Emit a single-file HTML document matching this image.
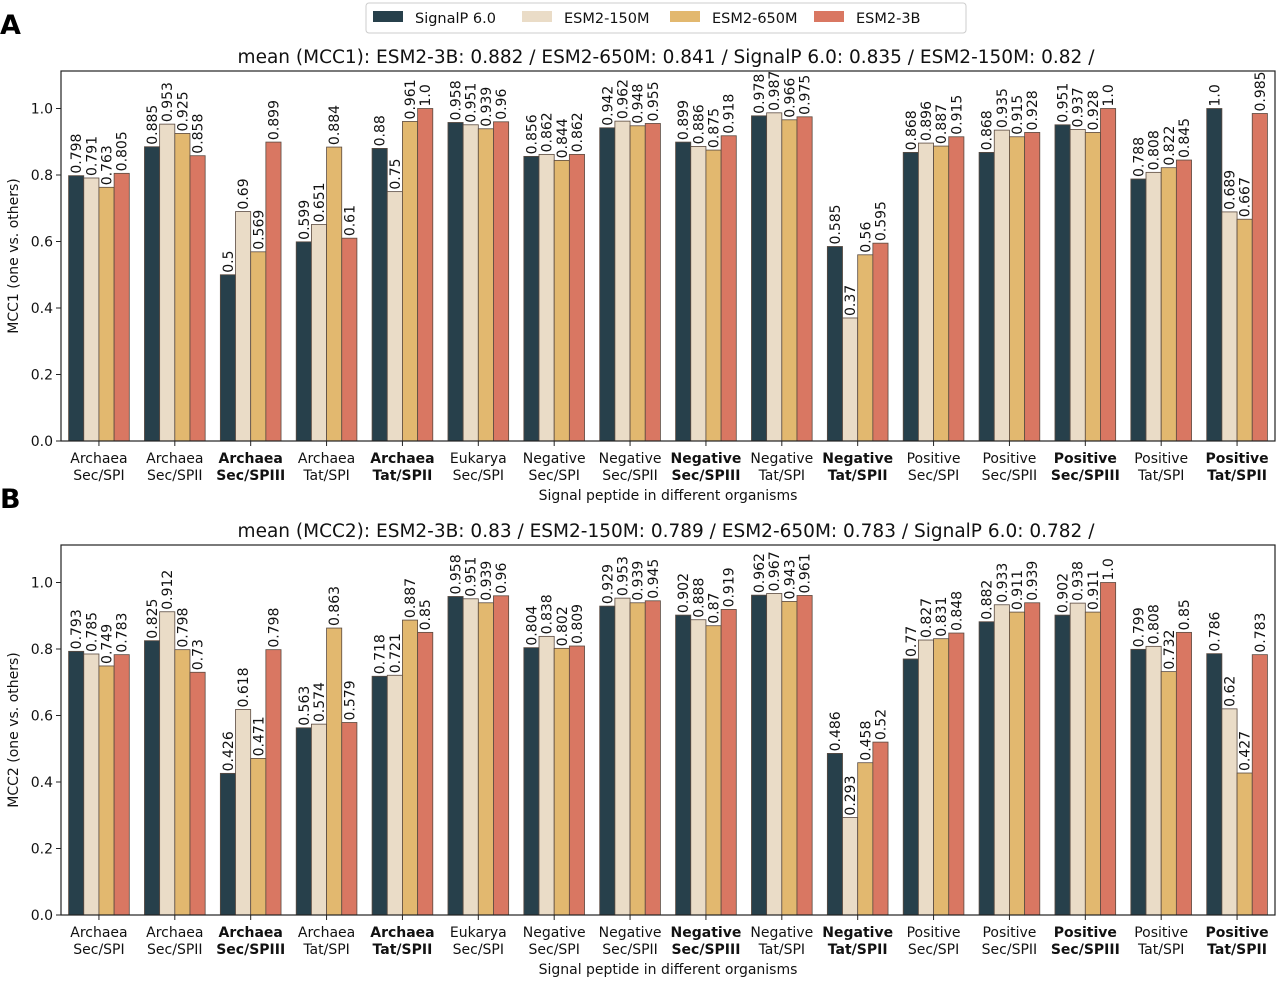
<!DOCTYPE html>
<html><head><meta charset="utf-8"><style>
body{margin:0;background:#fff}
svg{font-family:"DejaVu Sans","Liberation Sans",sans-serif}
</style></head><body>
<svg id="c" width="1280" height="983" viewBox="0 0 1280 983" xmlns="http://www.w3.org/2000/svg"></svg>
<script>
const categories=[["Archaea","Sec/SPI"],["Archaea","Sec/SPII"],["Archaea","Sec/SPIII"],["Archaea","Tat/SPI"],["Archaea","Tat/SPII"],["Eukarya","Sec/SPI"],["Negative","Sec/SPI"],["Negative","Sec/SPII"],["Negative","Sec/SPIII"],["Negative","Tat/SPI"],["Negative","Tat/SPII"],["Positive","Sec/SPI"],["Positive","Sec/SPII"],["Positive","Sec/SPIII"],["Positive","Tat/SPI"],["Positive","Tat/SPII"]];
const boldCats=[2,4,8,10,13,15];
const seriesNames=["SignalP 6.0","ESM2-150M","ESM2-650M","ESM2-3B"];
const seriesColors=["#27404b","#eadcc7","#e2b86f","#d97762"];
const a_signalp=[.798,.885,.5,.599,.88,.958,.856,.942,.899,.978,.585,.868,.868,.951,.788,1.0];
const a_150m=[.791,.953,.69,.651,.75,.951,.862,.962,.886,.987,.37,.896,.935,.937,.808,.689];
const a_650m=[.763,.925,.569,.884,.961,.939,.844,.948,.875,.966,.56,.887,.915,.928,.822,.667];
const a_3b=[.805,.858,.899,.61,1.0,.96,.862,.955,.918,.975,.595,.915,.928,1.0,.845,.985];
const b_signalp=[.793,.825,.426,.563,.718,.958,.804,.929,.902,.962,.486,.77,.882,.902,.799,.786];
const b_150m=[.785,.912,.618,.574,.721,.951,.838,.953,.888,.967,.293,.827,.933,.938,.808,.62];
const b_650m=[.749,.798,.471,.863,.887,.939,.802,.939,.87,.943,.458,.831,.911,.911,.732,.427];
const b_3b=[.783,.73,.798,.579,.85,.96,.809,.945,.919,.961,.52,.848,.939,1.0,.85,.783];
const yTicks=[0,0.2,0.4,0.6,0.8,1.0];
const NS="http://www.w3.org/2000/svg";
const svg=document.getElementById('c');
function el(t,a,p){const e=document.createElementNS(NS,t);for(const k in a)e.setAttribute(k,a[k]);(p||svg).appendChild(e);return e;}
function txt(s,a,p){const e=el('text',a,p);e.textContent=s;return e;}
function fmt(v){return v===1?'1.0':String(v);}

const lg=el('g',{});


el('rect',{x:366,y:3,width:600,height:30,rx:3,fill:'#fff',stroke:'#ccc'},lg);
const lgx=[373,522,670,814];
seriesNames.forEach((n,i)=>{
  const g=el('g',{},lg);
  
  
  el('rect',{x:lgx[i],y:11,width:30,height:11,fill:seriesColors[i]},g);
  txt(n,{x:lgx[i]+42,y:23,'font-size':14.5,fill:'#111'},g);
});

function panel(id,letter,series,yBase,title,yLabel){
  const L=61,R=1275,top=yBase-370,bot=yBase,k=332.5;
  const g=el('g',{});
  
  
  const y=v=>bot-v*k;
  const gw=(R-L)/categories.length, bw=gw*0.8/4;
  txt(letter,{x:0,y:top-37,'font-size':27,'font-weight':'bold',fill:'#000'},g);
  const t=txt(title,{x:666,y:top-8,'font-size':18.5,'text-anchor':'middle',fill:'#111','xml:space':'preserve'},g);
  
  
  yTicks.forEach(v=>{
    el('line',{x1:L-5,x2:L,y1:y(v),y2:y(v),stroke:'#222'},g);
    txt(v.toFixed(1),{x:L-8,y:y(v)+5,'font-size':14,'text-anchor':'end',fill:'#111'},g);
  });
  const yl=txt(yLabel,{transform:`translate(18,${(top+bot)/2}) rotate(-90)`,'font-size':14,'text-anchor':'middle',fill:'#111'},g);
  
  
  categories.forEach((c,ci)=>{
    const cx=L+gw*(ci+0.5);
    series.forEach((arr,si)=>{
      const v=arr[ci];
      const x=cx-gw*0.4+si*bw;
      const r=el('rect',{x:x,y:y(v),width:bw,height:bot-y(v),fill:seriesColors[si],stroke:'#5a4a40','stroke-width':0.8},g);
      
      
      txt(fmt(v),{transform:`translate(${x+bw/2+5},${y(v)-2}) rotate(-90)`,'font-size':14,fill:'#111'},g);
    });
    el('line',{x1:cx,x2:cx,y1:bot,y2:bot+5,stroke:'#222'},g);
    const b=boldCats.includes(ci)?'bold':'normal';
    txt(c[0],{x:cx,y:bot+22,'font-size':14,'text-anchor':'middle','font-weight':b,fill:'#111'},g);
    txt(c[1],{x:cx,y:bot+39,'font-size':14,'text-anchor':'middle','font-weight':b,fill:'#111'},g);
  });
  const xl=txt('Signal peptide in different organisms',{x:668,y:bot+59,'font-size':14,'text-anchor':'middle',fill:'#111'},g);
  
  
  el('rect',{x:L,y:top,width:R-L,height:bot-top,fill:'none',stroke:'#222','stroke-width':1.2},g);
}
panel('a','A',[a_signalp,a_150m,a_650m,a_3b],441,'mean (MCC1): ESM2-3B: 0.882 / ESM2-650M: 0.841 / SignalP 6.0: 0.835 / ESM2-150M: 0.82 /','MCC1 (one vs. others)');
panel('b','B',[b_signalp,b_150m,b_650m,b_3b],915,'mean (MCC2):  ESM2-3B: 0.83 / ESM2-150M: 0.789 / ESM2-650M: 0.783 / SignalP 6.0: 0.782 /','MCC2 (one vs. others)');
</script>
</body></html>
